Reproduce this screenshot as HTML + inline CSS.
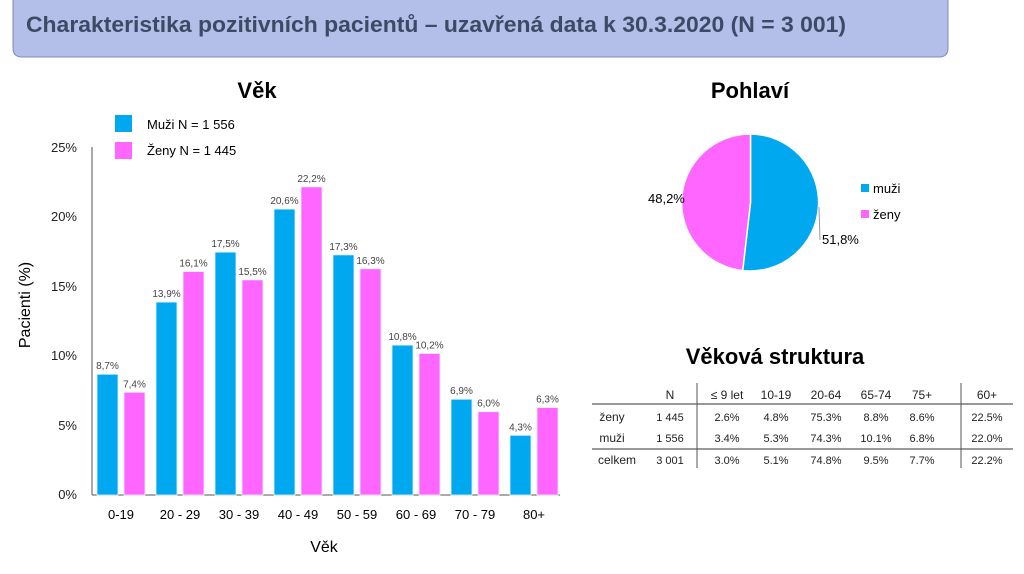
<!DOCTYPE html>
<html><head><meta charset="utf-8"><style>
body{margin:0;background:#fff;width:1024px;height:569px;overflow:hidden;font-family:"Liberation Sans",sans-serif}
svg text{font-family:"Liberation Sans",sans-serif}
</style></head><body>
<svg width="1024" height="569" xmlns="http://www.w3.org/2000/svg">
<path d="M13,-2 H948 V48 Q948,57 939,57 H22 Q13,57 13,48 Z" fill="#b3bee9" stroke="#7f8bbf" stroke-width="1"/>
<text x="26" y="32" font-size="22" font-weight="bold" fill="#3d4a66" textLength="820" lengthAdjust="spacingAndGlyphs">Charakteristika pozitivních pacientů – uzavřená data k 30.3.2020 (N = 3 001)</text>

<text x="257" y="98" font-size="22" font-weight="bold" text-anchor="middle">Věk</text>
<rect x="115" y="115" width="17" height="17" fill="#00a8f0"/>
<text x="147" y="129" font-size="13">Muži N = 1 556</text>
<rect x="115" y="142" width="17" height="17" fill="#ff66ff"/>
<text x="147" y="155" font-size="13">Ženy N = 1 445</text>

<g font-size="13" text-anchor="end" fill="#222">
<text x="77" y="152">25%</text><text x="77" y="221">20%</text><text x="77" y="291">15%</text>
<text x="77" y="360">10%</text><text x="77" y="430">5%</text><text x="77" y="499">0%</text>
</g>
<text transform="translate(30,305) rotate(-90)" font-size="16" text-anchor="middle">Pacienti (%)</text>
<line x1="92" y1="147" x2="92" y2="495" stroke="#555" stroke-width="1"/>
<line x1="92" y1="495" x2="560" y2="495" stroke="#555" stroke-width="1"/>

<g id="bars" stroke="#e8f4ff" stroke-width="0.8"></g>
<g font-size="10" fill="#444" text-anchor="middle" id="vals"></g>
<g font-size="13" text-anchor="middle" id="cats"></g>
<text x="324" y="552" font-size="16" text-anchor="middle">Věk</text>

<text x="750" y="98" font-size="22" font-weight="bold" text-anchor="middle">Pohlaví</text>
<path d="M750.5,202.5 L750.5,134 A68.5,68.5 0 1 1 742.7,270.6 Z" fill="#00a8f0" stroke="#fff" stroke-width="1.5"/>
<path d="M750.5,202.5 L742.7,270.6 A68.5,68.5 0 0 1 750.5,134 Z" fill="#ff66ff" stroke="#fff" stroke-width="1.5"/>
<polyline points="819,207 820,240" stroke="#999" fill="none"/>
<text x="822" y="244" font-size="13">51,8%</text>
<text x="648" y="203" font-size="13">48,2%</text>
<rect x="861" y="184" width="8" height="8" fill="#00a8f0"/>
<text x="873" y="193" font-size="13">muži</text>
<rect x="861" y="210" width="8" height="8" fill="#ff66ff"/>
<text x="873" y="219" font-size="13">ženy</text>

<text x="775" y="364" font-size="22" font-weight="bold" text-anchor="middle">Věková struktura</text>
<line x1="592" y1="404" x2="1013" y2="404" stroke="#333"/>
<line x1="592" y1="449" x2="1013" y2="449" stroke="#333"/>
<line x1="697" y1="383" x2="697" y2="468" stroke="#555"/>
<line x1="961" y1="383" x2="961" y2="468" stroke="#555"/>
<g font-size="12" text-anchor="middle" fill="#222">
<text x="670" y="399">N</text><text x="727" y="399">≤ 9 let</text><text x="776" y="399">10-19</text><text x="826" y="399">20-64</text><text x="876" y="399">65-74</text><text x="922" y="399">75+</text><text x="987" y="399">60+</text>
</g>
<g font-size="11" text-anchor="middle" fill="#222">
<text x="612" y="421" font-size="12">ženy</text><text x="670" y="421">1 445</text><text x="727" y="421">2.6%</text><text x="776" y="421">4.8%</text><text x="826" y="421">75.3%</text><text x="876" y="421">8.8%</text><text x="922" y="421">8.6%</text><text x="987" y="421">22.5%</text>
<text x="612" y="442" font-size="12">muži</text><text x="670" y="442">1 556</text><text x="727" y="442">3.4%</text><text x="776" y="442">5.3%</text><text x="826" y="442">74.3%</text><text x="876" y="442">10.1%</text><text x="922" y="442">6.8%</text><text x="987" y="442">22.0%</text>
<text x="617" y="464" font-size="12">celkem</text><text x="670" y="464">3 001</text><text x="727" y="464">3.0%</text><text x="776" y="464">5.1%</text><text x="826" y="464">74.8%</text><text x="876" y="464">9.5%</text><text x="922" y="464">7.7%</text><text x="987" y="464">22.2%</text>
</g>
</svg>
<script>
var m=[8.7,13.9,17.5,20.6,17.3,10.8,6.9,4.3],z=[7.4,16.1,15.5,22.2,16.3,10.2,6.0,6.3],c=["0-19","20 - 29","30 - 39","40 - 49","50 - 59","60 - 69","70 - 79","80+"];
var ns="http://www.w3.org/2000/svg",b=document.getElementById("bars"),v=document.getElementById("vals"),t=document.getElementById("cats");
function el(g,n,a,tx){var e=document.createElementNS(ns,n);for(var k in a)e.setAttribute(k,a[k]);if(tx)e.textContent=tx;g.appendChild(e);}
for(var i=0;i<8;i++){var x=97+59*i;
[[m[i],x,"#00a8f0"],[z[i],x+27,"#ff66ff"]].forEach(function(d){var h=d[0]*13.88;
el(b,"rect",{x:d[1],y:495-h,width:21,height:h,fill:d[2]});
el(v,"text",{x:d[1]+10.5,y:495-h-5},d[0].toFixed(1).replace(".",",")+"%");});
el(t,"text",{x:x+24,y:519},c[i]);}
</script>
</body></html>
